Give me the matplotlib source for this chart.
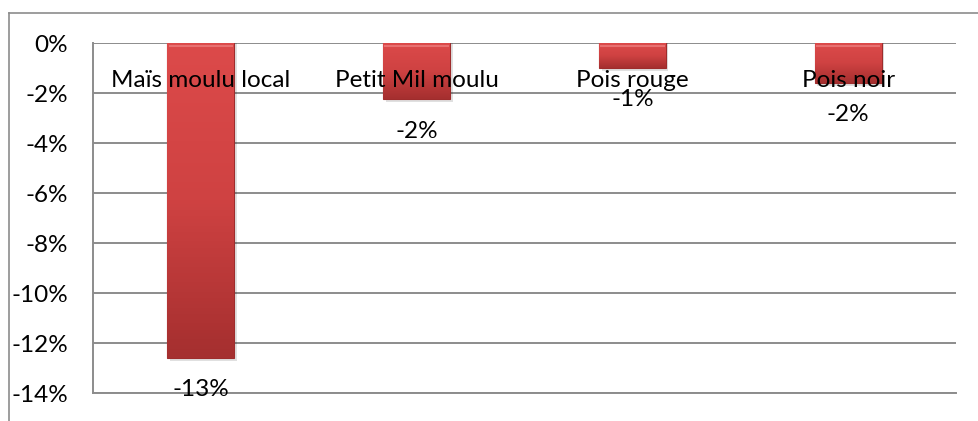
import numpy as np
import matplotlib.pyplot as plt
from matplotlib.lines import Line2D
from matplotlib.colors import LinearSegmentedColormap

plt.rcParams["font.family"] = ["Lato", "DejaVu Sans"]

categories = ["Maïs moulu local", "Petit Mil moulu", "Pois rouge", "Pois noir"]
values = [-12.6, -2.25, -1.0, -1.6]
labels = ["-13%", "-2%", "-1%", "-2%"]
yticks = [0, -2, -4, -6, -8, -10, -12, -14]

grid_c = "#8c8c8c"
fs = 17.5

fig = plt.figure(figsize=(9.79, 4.21), dpi=100)
ax = fig.add_axes([93 / 979, 1 - 393 / 421, (956 - 93) / 979, (393 - 43) / 421])

x = np.arange(len(categories))
width = 0.31
bars = ax.bar(x, values, width=width, color="#c93d3d", edgecolor="#9e2c2c", linewidth=0.8, zorder=3)

# vertical gradient + slight shadow for the bevelled look
cmap = LinearSegmentedColormap.from_list("bev", ["#dc4a4a", "#cf4242", "#a52f2f"])
grad = np.linspace(0, 1, 100).reshape(-1, 1)
for b in bars:
    x0, w = b.get_x(), b.get_width()
    y1 = b.get_height()
    ax.bar(x0 + w / 2 + 0.012, y1 - 0.1, width=w, color="#000000", alpha=0.12, zorder=2, linewidth=0)
    im = ax.imshow(grad, cmap=cmap, aspect="auto", extent=(x0, x0 + w, y1, 0), zorder=3.5)
    im.set_clip_path(b)
    ax.plot([x0 + 0.01, x0 + w - 0.01], [-0.12, -0.12], color="#e87070", lw=1.5, zorder=4)

for i, (v, lab) in enumerate(zip(values, labels)):
    ax.annotate(lab, (x[i], v), xytext=(0, -23), textcoords="offset points",
                ha="center", va="center", fontsize=fs, zorder=5)
    ax.annotate(categories[i], (x[i], 0), xytext=(0, -27), textcoords="offset points",
                ha="center", va="center", fontsize=fs, zorder=5)

ax.set_xlim(-0.5, len(categories) - 0.5)
ax.set_ylim(-14, 0)
ax.set_yticks(yticks)
ax.set_yticklabels([f"{t}%" for t in yticks], fontsize=fs)
ax.set_xticks([])
ax.tick_params(axis="y", length=0, pad=18)
ax.yaxis.grid(True, color=grid_c, lw=1.4, zorder=0)
ax.set_axisbelow(True)
for s in ["top", "right"]:
    ax.spines[s].set_visible(False)
for s in ["left", "bottom"]:
    ax.spines[s].set_color(grid_c)
    ax.spines[s].set_linewidth(1.4)

# outer chart border
fig.add_artist(Line2D([9 / 979, 9 / 979], [0, 1 - 13 / 421], color=grid_c, lw=1.2))
fig.add_artist(Line2D([9 / 979, 1], [1 - 13 / 421, 1 - 13 / 421], color=grid_c, lw=1.2))

fig.savefig("out.png", dpi=100)
